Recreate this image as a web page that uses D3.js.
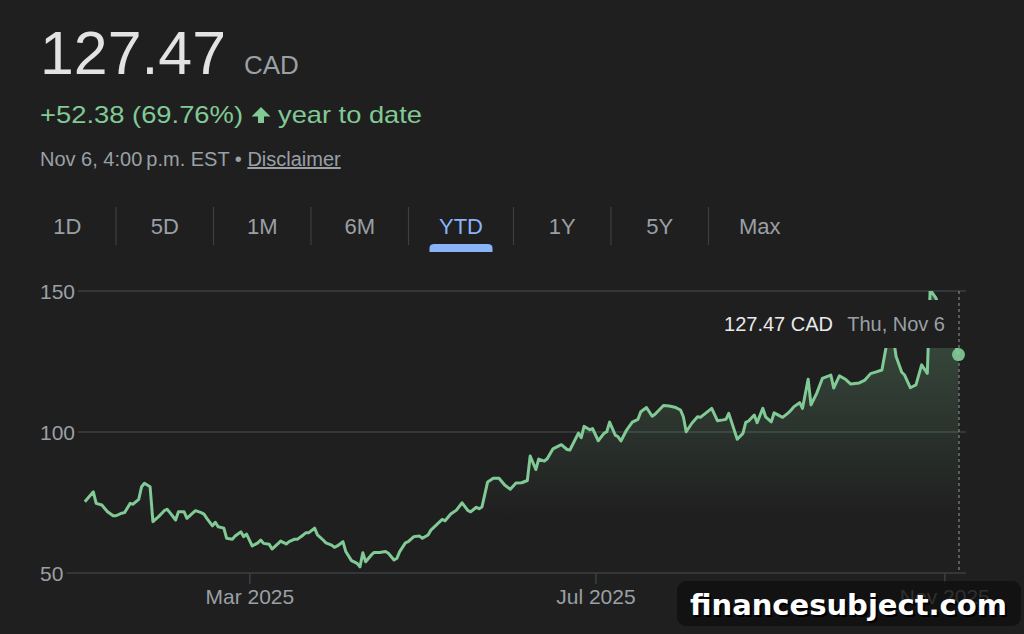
<!DOCTYPE html>
<html>
<head>
<meta charset="utf-8">
<script src="https://cdn.jsdelivr.net/npm/d3@7/dist/d3.min.js"></script>
<style>
  body { margin: 0; background: #1f1f1f; }
  svg { display: block; font-family: Arial, "Liberation Sans", Helvetica, sans-serif; }
</style>
</head>
<body>
<div id="chart"></div>
<script>
// dados (preco de fechamento, CAD)
var datas = [
  "2025-01-02","2025-01-05","2025-01-06","2025-01-08","2025-01-10","2025-01-12","2025-01-13","2025-01-15","2025-01-16","2025-01-18",
  "2025-01-19","2025-01-21","2025-01-22","2025-01-23","2025-01-25","2025-01-26","2025-01-28","2025-01-30","2025-01-31","2025-02-01",
  "2025-02-03","2025-02-04","2025-02-06","2025-02-07","2025-02-09","2025-02-10","2025-02-12","2025-02-13","2025-02-14","2025-02-16",
  "2025-02-17","2025-02-18","2025-02-20","2025-02-21","2025-02-23","2025-02-24","2025-02-26","2025-02-27","2025-02-28","2025-03-02",
  "2025-03-04","2025-03-05","2025-03-06","2025-03-08","2025-03-09","2025-03-11","2025-03-12","2025-03-14","2025-03-15","2025-03-17",
  "2025-03-18","2025-03-20","2025-03-21","2025-03-22","2025-03-24","2025-03-25","2025-03-27","2025-03-28","2025-03-30","2025-03-31",
  "2025-04-01","2025-04-03","2025-04-04","2025-04-06","2025-04-08","2025-04-09","2025-04-10","2025-04-11","2025-04-13","2025-04-14",
  "2025-04-16","2025-04-18","2025-04-19","2025-04-21","2025-04-22","2025-04-23","2025-04-25","2025-04-26","2025-04-28","2025-04-30",
  "2025-05-01","2025-05-03","2025-05-04","2025-05-08","2025-05-09","2025-05-11","2025-05-13","2025-05-15","2025-05-17","2025-05-18",
  "2025-05-20","2025-05-21","2025-05-22","2025-05-24","2025-05-26","2025-05-28","2025-05-30","2025-06-01","2025-06-03","2025-06-05",
  "2025-06-07","2025-06-08","2025-06-10","2025-06-11","2025-06-13","2025-06-14","2025-06-16","2025-06-19","2025-06-21","2025-06-22",
  "2025-06-25","2025-06-26","2025-06-27","2025-06-29","2025-06-30","2025-07-02","2025-07-04","2025-07-05","2025-07-06","2025-07-08",
  "2025-07-09","2025-07-10","2025-07-12","2025-07-14","2025-07-16","2025-07-17","2025-07-19","2025-07-21","2025-07-22","2025-07-25",
  "2025-07-27","2025-07-29","2025-07-31","2025-08-01","2025-08-02","2025-08-04","2025-08-06","2025-08-07","2025-08-09","2025-08-11",
  "2025-08-13","2025-08-15","2025-08-16","2025-08-17","2025-08-20","2025-08-22","2025-08-23","2025-08-24","2025-08-26","2025-08-27",
  "2025-08-29","2025-08-30","2025-09-01","2025-09-02","2025-09-04","2025-09-05","2025-09-07","2025-09-08","2025-09-09","2025-09-11",
  "2025-09-12","2025-09-14","2025-09-15","2025-09-17","2025-09-19","2025-09-22","2025-09-23","2025-09-25","2025-09-27","2025-09-29",
  "2025-10-02","2025-10-04","2025-10-06","2025-10-08","2025-10-10","2025-10-12","2025-10-13","2025-10-14","2025-10-15","2025-10-17",
  "2025-10-18","2025-10-20","2025-10-22","2025-10-24","2025-10-26","2025-10-27","2025-10-29","2025-10-31","2025-11-02","2025-11-04",
  "2025-11-05","2025-11-06"
];
var precos = [
  75.3, 78.8, 74.7, 74.1, 71.7, 70.3, 70.3, 71.2, 71.4, 74.7,
  74.4, 76.1, 80.6, 81.8, 80.6, 68.2, 70.0, 72.1, 72.6, 71.4,
  68.8, 71.7, 71.7, 69.4, 71.2, 72.1, 71.4, 70.9, 69.4, 66.7,
  68.0, 66.4, 65.9, 62.3, 62.0, 63.1, 64.6, 62.9, 63.8, 59.6,
  60.7, 61.7, 60.5, 60.2, 58.5, 60.3, 61.3, 60.3, 61.1, 62.0,
  62.0, 63.5, 64.3, 64.3, 65.9, 63.5, 61.7, 60.7, 59.9, 59.1,
  59.6, 61.1, 57.6, 54.4, 53.4, 52.2, 57.2, 54.0, 56.4, 57.3,
  57.3, 57.6, 57.0, 54.6, 55.2, 57.6, 60.7, 61.1, 62.9, 63.1,
  62.3, 63.5, 65.2, 69.0, 68.5, 70.9, 72.3, 74.9, 72.2, 71.7,
  73.3, 72.8, 73.4, 82.3, 83.6, 83.6, 81.2, 79.7, 81.9, 82.0,
  82.8, 91.5, 86.7, 90.4, 89.7, 90.5, 94.0, 95.5, 93.8, 93.6,
  99.6, 98.0, 102.0, 100.8, 101.2, 96.9, 99.5, 100.1, 103.5, 98.9,
  98.3, 96.8, 100.7, 103.5, 104.5, 107.2, 108.7, 105.6, 106.3, 109.4,
  109.2, 108.8, 107.8, 105.4, 100.1, 103.1, 105.4, 105.2, 106.8, 108.4,
  104.0, 104.3, 104.5, 106.6, 97.4, 99.5, 103.4, 103.9, 106.0, 103.3,
  108.4, 105.4, 103.6, 106.8, 105.7, 105.2, 106.8, 107.8, 109.0, 110.4,
  108.4, 118.7, 109.6, 113.7, 119.0, 120.2, 115.6, 119.9, 118.8, 117.0,
  117.4, 118.4, 120.7, 121.3, 122.0, 133.0, 136.0, 133.5, 126.8, 121.2,
  120.2, 115.7, 116.7, 123.8, 120.8, 150.4, 147.6, 142.0, 138.0, 134.0,
  131.0, 127.47
];

var yTicks = [50, 100, 150];
var xTicks = ["2025-03-01", "2025-07-01", "2025-11-01"];
var xTickLabels = ["Mar 2025", "Jul 2025", "Nov 2025"];
var periodos = ["1D", "5D", "1M", "6M", "YTD", "1Y", "5Y", "Max"];
var periodoAtivo = "YTD";
var variacao = 52.38, variacaoPct = 69.76;

var verde = "#81c995", cinza = "#9aa0a6", grade = "#3c4043", fundo = "#1f1f1f";

var parse = d3.timeParse("%Y-%m-%d");
var dados = datas.map((d, i) => ({data: parse(d), valor: precos[i]}));
var ultimo = dados[dados.length - 1];

var svg = d3.select("#chart").append("svg")
  .attr("width", 1024)
  .attr("height", 634);

/*
 * Cabecalho
 */
svg.append("text")
  .attr("x", 40).attr("y", 74)
  .attr("font-size", 62)
  .attr("textLength", 186).attr("lengthAdjust", "spacingAndGlyphs")
  .attr("fill", "#e3e3e3")
  .text(ultimo.valor.toFixed(2));

svg.append("text")
  .attr("x", 244).attr("y", 74)
  .attr("font-size", 26)
  .attr("fill", cinza)
  .text("CAD");

svg.append("text")
  .attr("x", 40).attr("y", 123)
  .attr("font-size", 24)
  .attr("textLength", 203).attr("lengthAdjust", "spacingAndGlyphs")
  .attr("fill", verde)
  .text("+" + variacao.toFixed(2) + " (" + variacaoPct.toFixed(2) + "%)");

// seta para cima
svg.append("path")
  .attr("d", "M261,107 L270.5,116.5 L264,116.5 L264,123 L258,123 L258,116.5 L251.5,116.5 Z")
  .attr("fill", verde);

svg.append("text")
  .attr("x", 278).attr("y", 123)
  .attr("font-size", 24)
  .attr("textLength", 144).attr("lengthAdjust", "spacingAndGlyphs")
  .attr("fill", verde)
  .text("year to date");

var linhaData = svg.append("text")
  .attr("x", 40).attr("y", 166)
  .attr("font-size", 20)
  .attr("fill", cinza);
linhaData.append("tspan").text("Nov 6, 4:00\u2009p.m. EST \u2022 ");
linhaData.append("tspan").attr("text-decoration", "underline").text("Disclaimer");

/*
 * Abas de periodo
 */
var abas = svg.append("g");
var xAba = 18.5;
periodos.forEach(function(p, i) {
  var t = abas.append("text")
    .attr("y", 234)
    .attr("font-size", 22)
    .attr("text-anchor", "middle")
    .attr("fill", p == periodoAtivo ? "#8ab4f8" : cinza)
    .text(p);
  var tw = t.node().getComputedTextLength();
  var w = Math.max(97.5, tw + 61);
  t.attr("x", xAba + w / 2);
  if (p == periodoAtivo) {
    var a = xAba + w / 2 - (tw + 19) / 2, b = xAba + w / 2 + (tw + 19) / 2;
    abas.append("path")
      .attr("d", "M" + a + ",252 L" + a + ",248 Q" + a + ",244 " + (a + 5) + ",244 L" + (b - 5) + ",244 Q" + b + ",244 " + b + ",248 L" + b + ",252 Z")
      .attr("fill", "#8ab4f8");
  }
  xAba += w;
  if (i < periodos.length - 1) {
    abas.append("line")
      .attr("x1", xAba).attr("x2", xAba)
      .attr("y1", 207).attr("y2", 245)
      .attr("stroke", grade).attr("stroke-width", 1.2);
  }
});

/*
 * As escalas
 */
var x = d3.scaleTime()
  .domain([parse("2025-01-01"), parse("2025-11-06")])
  .range([82, 958.5]);

var y = d3.scaleLinear()
  .domain([50, 150])
  .range([573, 291]);

/*
 * Grade e eixo y
 */
var gy = svg.append("g");
yTicks.forEach(function(v) {
  var t = gy.append("text")
    .attr("x", 40).attr("y", y(v) + 7.5)
    .attr("font-size", 21)
    .attr("fill", cinza)
    .text(v);
  var tw = t.node().getComputedTextLength();
  gy.append("line")
    .attr("x1", 40 + tw + 3).attr("x2", 966)
    .attr("y1", y(v)).attr("y2", y(v))
    .attr("stroke", grade).attr("stroke-width", 1.5);
});

/*
 * Eixo x
 */
var eixoX = svg.append("g")
  .attr("transform", "translate(0," + y(50) + ")")
  .call(d3.axisBottom(x)
    .tickValues(xTicks.map(parse))
    .tickFormat((d, i) => xTickLabels[i])
    .tickSize(11)
    .tickPadding(5));
eixoX.select(".domain").remove();
eixoX.selectAll("line").attr("stroke", grade).attr("stroke-width", 1.5);
eixoX.selectAll("text")
  .attr("font-size", 21)
  .attr("font-family", "Arial, 'Liberation Sans', sans-serif")
  .attr("fill", cinza);

/*
 * Area e linha
 */
var defs = svg.append("defs");
var grad = defs.append("linearGradient")
  .attr("id", "degrade")
  .attr("gradientUnits", "userSpaceOnUse")
  .attr("x1", 0).attr("x2", 0)
  .attr("y1", y(150)).attr("y2", y(50));
grad.append("stop").attr("offset", 0).attr("stop-color", verde).attr("stop-opacity", 0.3);
grad.append("stop").attr("offset", 0.8).attr("stop-color", verde).attr("stop-opacity", 0);

defs.append("clipPath").attr("id", "recorte")
  .append("rect")
  .attr("x", 0).attr("y", y(150))
  .attr("width", 1024).attr("height", y(50) - y(150));

var plot = svg.append("g").attr("clip-path", "url(#recorte)");

plot.append("path")
  .datum(dados)
  .attr("d", d3.area().x(d => x(d.data)).y0(y(50)).y1(d => y(d.valor)))
  .attr("fill", "url(#degrade)");

plot.append("path")
  .datum(dados)
  .attr("d", d3.line().x(d => x(d.data)).y(d => y(d.valor)))
  .attr("fill", "none")
  .attr("stroke", verde)
  .attr("stroke-width", 3)
  .attr("stroke-linejoin", "round");

/*
 * Tooltip do ultimo ponto
 */
var xu = x(ultimo.data), yu = y(ultimo.valor);

svg.append("rect")
  .attr("x", 710).attr("y", 300)
  .attr("width", xu - 710).attr("height", 48)
  .attr("fill", fundo);

svg.append("line")
  .attr("x1", xu + 0.5).attr("x2", xu + 0.5)
  .attr("y1", y(150)).attr("y2", y(50))
  .attr("stroke", cinza)
  .attr("stroke-width", 1.2)
  .attr("stroke-dasharray", "3,3")
  .attr("opacity", 0.8);

svg.append("circle")
  .attr("cx", xu).attr("cy", yu)
  .attr("r", 6.5)
  .attr("fill", verde)
  .attr("opacity", 0.92);

svg.append("text")
  .attr("x", 945).attr("y", 331)
  .attr("font-size", 20)
  .attr("text-anchor", "end")
  .attr("fill", cinza)
  .text(d3.timeFormat("%a, %b %-d")(ultimo.data));

svg.append("text")
  .attr("x", 833).attr("y", 331)
  .attr("font-size", 20)
  .attr("text-anchor", "end")
  .attr("fill", "#e8eaed")
  .text(ultimo.valor.toFixed(2) + " CAD");

/*
 * Marca d'agua
 */
svg.append("rect")
  .attr("x", 677).attr("y", 581)
  .attr("width", 344).attr("height", 45)
  .attr("rx", 9)
  .attr("fill", "#0f0f0f")
  .attr("opacity", 0.78);

svg.append("text")
  .attr("x", 692).attr("y", 617)
  .attr("font-family", "'DejaVu Sans', sans-serif")
  .attr("font-weight", "bold")
  .attr("font-size", 29)
  .attr("fill", "#000")
  .text("financesubject.com");

svg.append("text")
  .attr("x", 690).attr("y", 615)
  .attr("font-family", "'DejaVu Sans', sans-serif")
  .attr("font-weight", "bold")
  .attr("font-size", 29)
  .attr("fill", "#fff")
  .text("financesubject.com");
</script>
</body>
</html>
